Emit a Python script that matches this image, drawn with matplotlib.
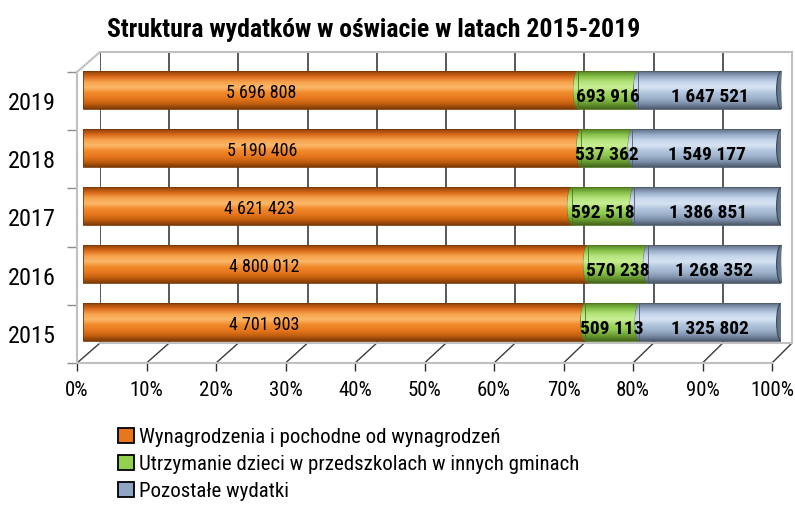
import numpy as np
import matplotlib
matplotlib.use("Agg")
import matplotlib.pyplot as plt
from matplotlib.colors import LinearSegmentedColormap
from matplotlib.patches import Ellipse, Patch, ConnectionPatch

# dane
lata = ["2015", "2016", "2017", "2018", "2019"]
wynagrodzenia = [4701903, 4800012, 4621423, 5190406, 5696808]
przedszkola = [509113, 570238, 592518, 537362, 693916]
pozostale = [1325802, 1268352, 1386851, 1549177, 1647521]
etykiety = ["Wynagrodzenia i pochodne od wynagrodzeń",
            "Utrzymanie dzieci w przedszkolach w innych gminach",
            "Pozostałe wydatki"]
procenty = list(range(0, 101, 10))

plt.rcParams['font.family'] = ['Roboto Condensed', 'Liberation Sans', 'DejaVu Sans']

W, H = 795, 511


def box(left, right, top, bottom):
    return [left / W, 1 - bottom / H, (right - left) / W, (bottom - top) / H]


def fmt(v):
    return f"{v:,}".replace(",", " ")


fig = plt.figure(figsize=(W / 100, H / 100), dpi=100)

# tylna sciana
back = fig.add_axes(box(100, 792, 52, 343))
back.set_facecolor("none")
back.set_xlim(0, 100)
back.set_ylim(-0.5, 4.5)
back.set_xticks(procenty)
back.set_yticks([])
back.tick_params(axis="x", length=0, labelbottom=False)
back.grid(axis="x", color="#2b2b2b", lw=1.1)
for s in back.spines.values():
    s.set_color("#c0c0c0")
    s.set_linewidth(1.5)
back.spines["left"].set_visible(False)

# slupki
ax = fig.add_axes(box(83, 781, 61, 351))
ax.set_facecolor("none")
ax.axis("off")

kolory = [
    ["#8a4008", "#d9691a", "#f7a24c", "#fbb868", "#f08a2c", "#e8781e", "#c4600f", "#7e3a06"],
    ["#557f25", "#86c248", "#b5e37c", "#c8ef95", "#a2d862", "#8cc64c", "#6a9c33", "#44661c"],
    ["#5b6b80", "#97abc6", "#c4d4ea", "#d6e3f3", "#b3c6de", "#9fb3cd", "#7d90aa", "#4c596b"],
]
cmaps = [LinearSegmentedColormap.from_list(f"c{i}", k) for i, k in enumerate(kolory)]
krawedz = ["#7a3a08", "#4f7420", "#4f5c6e"]

grad = np.linspace(0, 1, 128).reshape(-1, 1)
h = 0.64
y = np.arange(len(lata))
suma = np.array(wynagrodzenia) + np.array(przedszkola) + np.array(pozostale)
serie = [np.array(wynagrodzenia), np.array(przedszkola), np.array(pozostale)]
udzialy = [s / suma * 100 for s in serie]
cap_w = 1.25


def gradient(patch, cmap, x0, x1, y0, y1, z):
    im = ax.imshow(grad, cmap=cmap, extent=(x0, x1, y0, y1), aspect="auto",
                   interpolation="bilinear", zorder=z)
    im.set_clip_path(patch)


lewo = np.zeros(len(lata))
for i, u in enumerate(udzialy):
    bars = ax.barh(y, u, left=lewo, height=h, color="none", edgecolor=krawedz[i],
                   lw=0.6, zorder=2 + i + 0.1)
    for j, r in enumerate(bars):
        x0, y0 = r.get_x(), r.get_y()
        x1, y1 = x0 + r.get_width(), y0 + r.get_height()
        e = Ellipse((x0, y[j]), cap_w, h, facecolor="none", edgecolor=krawedz[i],
                    lw=0.6, zorder=2 + i)
        ax.add_patch(e)
        gradient(e, cmaps[i], x0 - cap_w / 2, x0 + cap_w / 2, y0, y1, 2 + i)
        gradient(r, cmaps[i], x0, x1, y0, y1, 2 + i + 0.05)
    lewo = lewo + u

for j in y:
    ax.add_patch(Ellipse((lewo[j], j), cap_w, h, facecolor="#667689",
                         edgecolor="#3a4452", lw=0.8, zorder=6))

# etykiety danych
for j in y:
    ax.text(udzialy[0][j] * 0.36, j - 0.06, fmt(wynagrodzenia[j]), ha="center",
            va="center", fontsize=13, zorder=10)
    ax.text(udzialy[0][j] + udzialy[1][j] / 2, j - 0.12, fmt(przedszkola[j]),
            ha="center", va="center", fontsize=14, fontweight="bold", zorder=10)
    ax.text(udzialy[0][j] + udzialy[1][j] + udzialy[2][j] / 2, j - 0.12,
            fmt(pozostale[j]), ha="center", va="center", fontsize=14,
            fontweight="bold", zorder=10)
ax.set_xlim(0, 100)
ax.set_ylim(-0.5, 4.5)

# przednie osie
front = fig.add_axes(box(77, 772, 72, 363))
front.set_facecolor("none")
front.set_xlim(0, 100)
front.set_ylim(-0.5, 4.5)
front.set_xticks(procenty)
front.set_xticklabels([f"{p}%" for p in procenty])
front.set_yticks(y)
front.set_yticklabels(lata)
front.set_yticks(np.arange(-0.5, 5, 1), minor=True)
front.tick_params(axis="x", length=6, width=1, color="#2b2b2b", pad=7, labelsize=15)
front.tick_params(axis="y", which="major", length=0, pad=15, labelsize=17.5)
front.tick_params(axis="y", which="minor", length=7, width=1, color="#8c8c8c")
for s in ["top", "right"]:
    front.spines[s].set_visible(False)
for s in ["left", "bottom"]:
    front.spines[s].set_color("#c0c0c0")
    front.spines[s].set_linewidth(1.5)

# podloga i lewa sciana
for p in procenty:
    fig.add_artist(ConnectionPatch(xyA=(p, -0.5), coordsA=front.transData,
                                   xyB=(p, -0.5), coordsB=back.transData,
                                   color="#3a3a3a", lw=1, zorder=-1))
fig.add_artist(ConnectionPatch(xyA=(0, 4.5), coordsA=front.transData,
                               xyB=(0, 4.5), coordsB=back.transData,
                               color="#c0c0c0", lw=1.5, zorder=-1))

fig.text(374 / W, 1 - 30 / H, "Struktura wydatków w oświacie w latach 2015-2019",
         ha="center", va="center", fontsize=18.5, fontweight="bold")

uchwyty = [Patch(facecolor=c, edgecolor="black", lw=1.3)
           for c in ["#e8761a", "#92d050", "#8ea6c4"]]
fig.legend(uchwyty, etykiety, loc="upper left", bbox_to_anchor=(118 / W, 1 - 428 / H),
           frameon=False, fontsize=15, handlelength=0.75, handleheight=0.75,
           handletextpad=0.25, labelspacing=0.38, borderpad=0, borderaxespad=0)

fig.savefig("out.png", dpi=100)
